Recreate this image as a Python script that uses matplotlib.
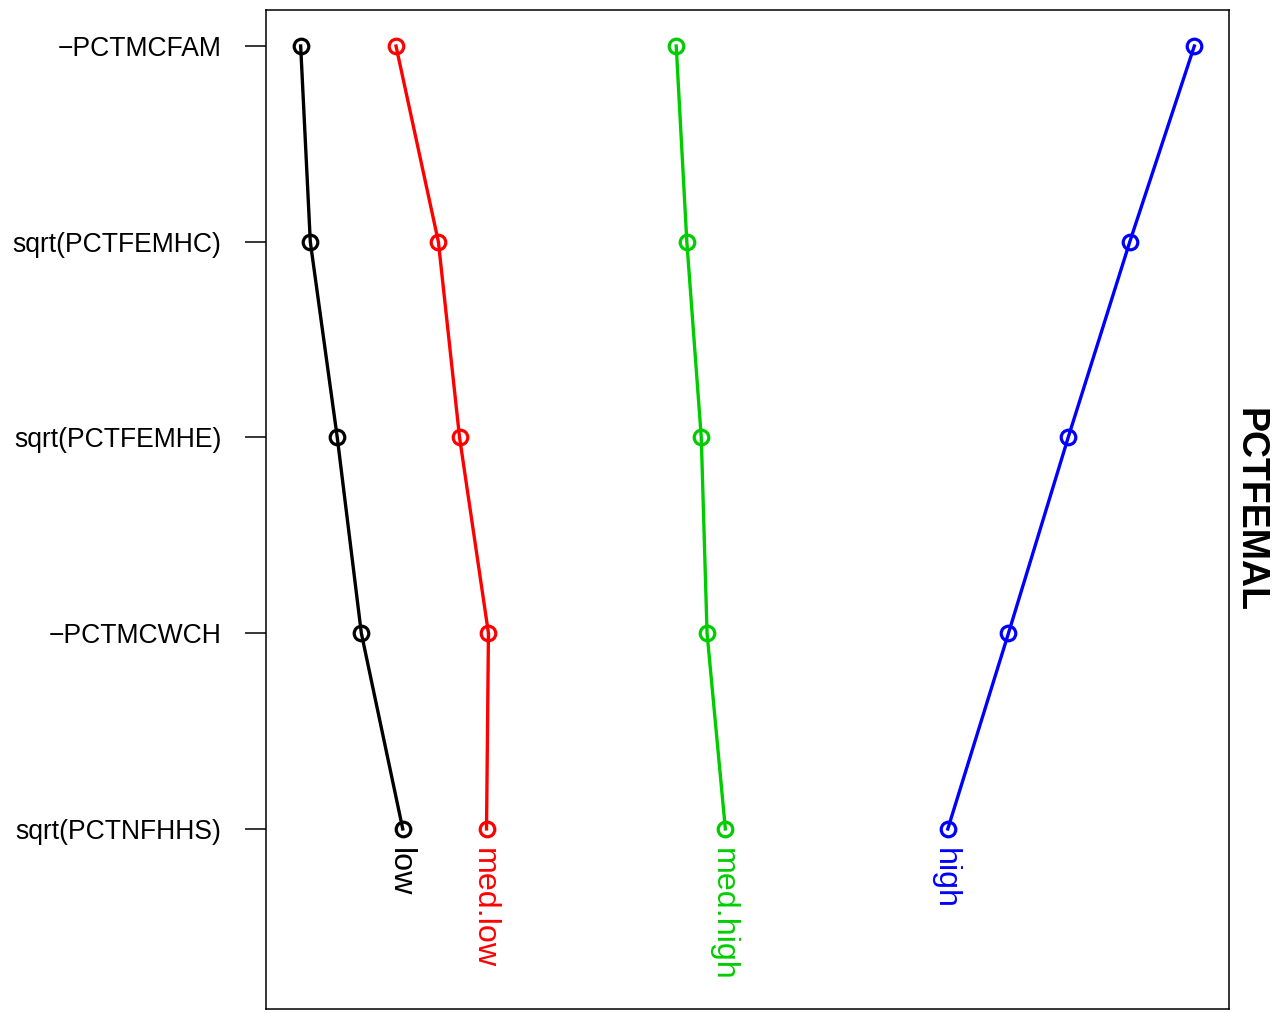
import matplotlib
matplotlib.use("Agg")
import matplotlib.pyplot as plt

plt.rcParams['font.family'] = ['Liberation Sans', 'DejaVu Sans']

variables = ["\u2212PCTMCFAM", "sqrt(PCTFEMHC)", "sqrt(PCTFEMHE)", "\u2212PCTMCWCH", "sqrt(PCTNFHHS)"]
groups = ["low", "med.low", "med.high", "high"]
colors = ["#000000", "#FF0000", "#00CD00", "#0000FF"]

# horizontal positions (arbitrary score units)
low = [0.036, 0.046, 0.074, 0.099, 0.142]
med_low = [0.135, 0.179, 0.201, 0.231, 0.229]
med_high = [0.426, 0.437, 0.452, 0.458, 0.477]
high = [0.964, 0.897, 0.833, 0.771, 0.708]
series = [low, med_low, med_high, high]

fig = plt.figure(figsize=(12.74, 10.13), dpi=100)
ax = fig.add_axes([266/1274, 4/1013, 963/1274, 999/1013])

ypos = list(range(1, len(variables) + 1))
for vals, col, name in zip(series, colors, groups):
    ax.plot(vals, ypos, color=col, lw=2.4, marker='o', markersize=10.5,
            markerfacecolor='none', markeredgewidth=2.3, zorder=3)
    ax.annotate(name, xy=(vals[-1], ypos[-1]), xytext=(-2, -14),
                textcoords='offset points', rotation=-90, color=col,
                ha='center', va='top', fontsize=23.2)

ax.set_xlim(0, 1)
ax.set_ylim(5.92, 0.816)
ax.set_yticks(ypos)
ax.set_yticklabels(variables, fontsize=19.1)
ax.set_xticks([])
ax.tick_params(axis='y', length=15, width=1.1, pad=17)
for s in ax.spines.values():
    s.set_linewidth(1.1)

fig.text(1250/1274, 0.497, "PCTFEMAL", rotation=-90, ha='center', va='center',
         fontsize=27, fontweight='bold')

fig.savefig("out.png", dpi=100)
